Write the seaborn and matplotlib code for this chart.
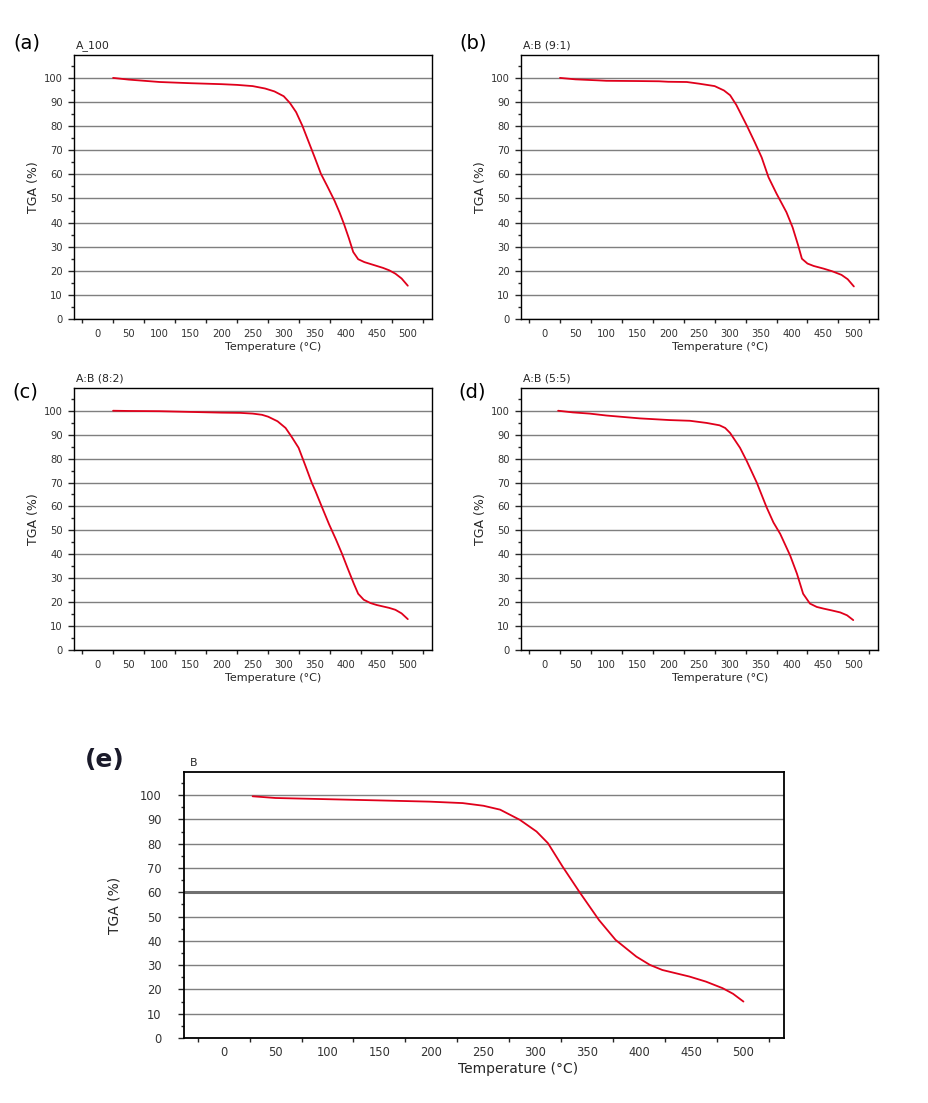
import matplotlib
matplotlib.use("Agg")
import matplotlib.pyplot as plt
import seaborn as sns
import pandas as pd
from matplotlib.ticker import MultipleLocator, FixedLocator

sns.set_style("white")
plt.rcParams['font.family'] = ['DejaVu Sans']

# ---------------- data ----------------
t_a = [25, 50, 75, 100, 150, 200, 225, 250, 270, 285, 300, 310, 320, 330, 340, 350,
       360, 370, 382, 390, 397, 405, 412, 420, 430, 440, 450, 460, 470, 480, 490, 500]
m_a = [100, 99.3, 98.8, 98.3, 97.8, 97.4, 97.1, 96.6, 95.6, 94.4, 92.4, 89.6, 85.8, 80.2, 73.6, 67.0,
       60.2, 55.2, 49.0, 44.2, 39.5, 33.5, 27.8, 24.8, 23.6, 22.8, 22.0, 21.2, 20.2, 18.8, 16.8, 13.8]

t_b = [25, 50, 85, 100, 150, 185, 200, 230, 250, 275, 290, 300, 310, 327, 340, 351, 362, 375,
       391, 401, 410, 416, 425, 435, 451, 465, 480, 490, 500]
m_b = [100, 99.4, 99.0, 98.8, 98.7, 98.6, 98.4, 98.3, 97.6, 96.6, 94.8, 92.8, 88.8, 80.2, 73.2, 67.0, 58.8, 52.0,
       44.3, 38.0, 30.5, 25.0, 23.0, 22.0, 20.9, 19.8, 18.3, 16.5, 13.5]

t_c = [25, 50, 100, 150, 200, 230, 250, 265, 275, 290, 303, 313, 324, 335, 345, 351, 362, 373,
       384, 394, 403, 413, 420, 429, 440, 450, 460, 470, 480, 490, 500]
m_c = [100, 99.9, 99.8, 99.5, 99.2, 99.1, 98.8, 98.3, 97.5, 95.6, 92.8, 89.0, 84.5, 77.0, 70.0, 66.5, 59.5, 52.6,
       46.3, 40.2, 34.2, 27.7, 23.5, 21.0, 19.6, 18.8, 18.2, 17.6, 16.8, 15.3, 12.9]

t_d = [22, 46, 73, 100, 154, 202, 235, 262, 283, 292, 300, 316, 327, 343, 359, 370, 381, 397,
       408, 418, 429, 440, 451, 465, 478, 489, 499]
m_d = [100, 99.3, 98.8, 98.0, 96.8, 96.1, 95.8, 94.9, 93.9, 92.8, 90.7, 84.5, 78.9, 70.0, 59.6, 53.3, 48.5, 39.5,
       31.9, 23.5, 19.4, 18.0, 17.3, 16.5, 15.7, 14.5, 12.5]

t_e = [28, 50, 100, 150, 198, 230, 250, 266, 285, 301, 312, 326, 342, 361, 377, 397, 410, 422,
       448, 464, 480, 490, 500]
m_e = [99.5, 98.8, 98.3, 97.8, 97.3, 96.7, 95.6, 94.0, 89.8, 85.0, 80.2, 70.6, 60.3, 48.6, 40.4, 33.5, 30.1, 28.0,
       25.3, 23.2, 20.5, 18.2, 15.0]

titles = ["A_100", "A:B (9:1)", "A:B (8:2)", "A:B (5:5)", "B"]
panel_labels = ["(a)", "(b)", "(c)", "(d)", "(e)"]
x_ticks = [0, 50, 100, 150, 200, 250, 300, 350, 400, 450, 500]
y_ticks = [0, 10, 20, 30, 40, 50, 60, 70, 80, 90, 100]

W, H = 929, 1103
fig = plt.figure(figsize=(W / 100, H / 100), dpi=100)

def rect(l, r, t, b):
    return [l / W, 1 - b / H, (r - l) / W, (b - t) / H]

boxes = [rect(74, 432, 55, 319), rect(521, 878, 55, 319),
         rect(74, 432, 388, 650), rect(521, 878, 388, 650),
         rect(184, 784, 772, 1038)]
label_pos = [(27, 43), (473, 43), (25, 392), (472, 392), (105, 760)]
ylabel_x = [40, 487, 40, 487, 122]
datasets = [(t_a, m_a), (t_b, m_b), (t_c, m_c), (t_d, m_d), (t_e, m_e)]

for i, ((t, m), box) in enumerate(zip(datasets, boxes)):
    big = (i == 4)
    ax = fig.add_axes(box)
    df = pd.DataFrame({"Temperature": t, "TGA": m})
    ax.yaxis.grid(True, color="#7f7f7f", linewidth=1.0)
    ax.set_axisbelow(True)
    sns.lineplot(data=df, x="Temperature", y="TGA", ax=ax, color="#e0001b",
                 linewidth=1.3, estimator=None, sort=True)
    if big:
        ax.axhline(60, color="#707070", linewidth=2.2, zorder=1)
    ax.set_xlim(-38, 539)
    ax.set_ylim(0, 109.5)
    ax.xaxis.set_major_locator(FixedLocator(x_ticks))
    ax.xaxis.set_minor_locator(FixedLocator(list(range(-25, 530, 50))))
    ax.yaxis.set_major_locator(FixedLocator(y_ticks))
    ax.yaxis.set_minor_locator(MultipleLocator(5))
    fs_tick = 8.3 if big else 7.2
    ax.tick_params(axis="x", which="major", length=0, pad=6 if big else 7,
                   labelsize=fs_tick, labelcolor="#333333")
    ax.tick_params(axis="x", which="minor", length=3, width=1, direction="out", bottom=True)
    ax.tick_params(axis="y", which="major", length=4, width=1, direction="out", left=True,
                   labelsize=fs_tick, labelcolor="#333333", pad=12 if big else 4)
    ax.tick_params(axis="y", which="minor", length=2.5, width=1, direction="out", left=True)
    for s in ax.spines.values():
        s.set_color("black")
        s.set_linewidth(1.3 if big else 1.0)
    ax.set_xlabel("")
    ax.set_ylabel("TGA (%)", fontsize=10 if big else 9)
    ax.yaxis.set_label_coords((ylabel_x[i] / W - box[0]) / box[2], 0.5)
    ax.text(0.557, -0.115 if big else -0.105, "Temperature (°C)", transform=ax.transAxes,
            ha="center", va="center", fontsize=10 if big else 8)
    ax.text(0.01 if big else 0.005, 1.035, titles[i], transform=ax.transAxes,
            ha="left", va="center", fontsize=7.8)
    lx, ly = label_pos[i]
    fig.text(lx / W, 1 - ly / H, panel_labels[i], ha="center", va="center",
             fontsize=18 if big else 14, color="#1a1a2a" if big else "black",
             fontweight="bold" if big else "normal")

fig.savefig("out.png", dpi=100)
